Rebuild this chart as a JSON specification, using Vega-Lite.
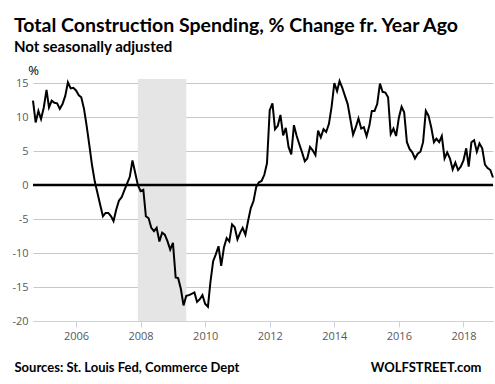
{
  "$schema": "https://vega.github.io/schema/vega-lite/v6.json",
  "width": 460,
  "height": 242,
  "autosize": {"type": "none"},
  "padding": {"left": 33, "top": 79, "right": 2, "bottom": 63},
  "background": "white",
  "config": {"view": {"stroke": null}},
  "title": {
    "text": "Total Construction Spending, % Change fr. Year Ago",
    "subtitle": "Not seasonally adjusted",
    "anchor": "start",
    "frame": "group",
    "dx": -19,
    "offset": 8,
    "font": "Lato",
    "fontSize": 19.5,
    "fontWeight": "bold",
    "color": "black",
    "subtitleFont": "Lato",
    "subtitleFontSize": 15,
    "subtitleFontWeight": "bold",
    "subtitleColor": "black",
    "subtitlePadding": 4
  },
  "datasets": {
    "recession": [{"start": "2007-12-01", "end": "2009-06-01"}],
    "zero": [{"v": 0}],
    "series": [
      {"date": "2004-09-01", "pct": 12.4}, {"date": "2004-10-01", "pct": 9.2}, {"date": "2004-11-01", "pct": 10.9}, {"date": "2004-12-01", "pct": 9.7},
      {"date": "2005-01-01", "pct": 11.4}, {"date": "2005-02-01", "pct": 14.0}, {"date": "2005-03-01", "pct": 11.4}, {"date": "2005-04-01", "pct": 12.4},
      {"date": "2005-05-01", "pct": 12.1}, {"date": "2005-06-01", "pct": 12.0}, {"date": "2005-07-01", "pct": 11.2}, {"date": "2005-08-01", "pct": 11.9},
      {"date": "2005-09-01", "pct": 13.1}, {"date": "2005-10-01", "pct": 15.1}, {"date": "2005-11-01", "pct": 14.2}, {"date": "2005-12-01", "pct": 14.3},
      {"date": "2006-01-01", "pct": 13.9}, {"date": "2006-02-01", "pct": 13.2}, {"date": "2006-03-01", "pct": 12.9}, {"date": "2006-04-01", "pct": 11.2},
      {"date": "2006-05-01", "pct": 8.7}, {"date": "2006-06-01", "pct": 5.8}, {"date": "2006-07-01", "pct": 2.9}, {"date": "2006-08-01", "pct": 0.5},
      {"date": "2006-09-01", "pct": -1.2}, {"date": "2006-10-01", "pct": -2.9}, {"date": "2006-11-01", "pct": -4.6}, {"date": "2006-12-01", "pct": -4.1},
      {"date": "2007-01-01", "pct": -4.1}, {"date": "2007-02-01", "pct": -4.6}, {"date": "2007-03-01", "pct": -5.3}, {"date": "2007-04-01", "pct": -3.6},
      {"date": "2007-05-01", "pct": -2.3}, {"date": "2007-06-01", "pct": -1.8}, {"date": "2007-07-01", "pct": -0.8}, {"date": "2007-08-01", "pct": 0.2},
      {"date": "2007-09-01", "pct": 1.2}, {"date": "2007-10-01", "pct": 3.6}, {"date": "2007-11-01", "pct": 1.8}, {"date": "2007-12-01", "pct": 0.0},
      {"date": "2008-01-01", "pct": -0.9}, {"date": "2008-02-01", "pct": -0.7}, {"date": "2008-03-01", "pct": -4.6}, {"date": "2008-04-01", "pct": -4.9},
      {"date": "2008-05-01", "pct": -6.3}, {"date": "2008-06-01", "pct": -6.8}, {"date": "2008-07-01", "pct": -6.3}, {"date": "2008-08-01", "pct": -8.3},
      {"date": "2008-09-01", "pct": -7.0}, {"date": "2008-10-01", "pct": -7.3}, {"date": "2008-11-01", "pct": -8.3}, {"date": "2008-12-01", "pct": -9.5},
      {"date": "2009-01-01", "pct": -8.5}, {"date": "2009-02-01", "pct": -13.6}, {"date": "2009-03-01", "pct": -13.7}, {"date": "2009-04-01", "pct": -15.3},
      {"date": "2009-05-01", "pct": -17.7}, {"date": "2009-06-01", "pct": -16.3}, {"date": "2009-07-01", "pct": -16.2}, {"date": "2009-08-01", "pct": -16.0},
      {"date": "2009-09-01", "pct": -15.8}, {"date": "2009-10-01", "pct": -17.2}, {"date": "2009-11-01", "pct": -16.8}, {"date": "2009-12-01", "pct": -16.2},
      {"date": "2010-01-01", "pct": -17.5}, {"date": "2010-02-01", "pct": -17.9}, {"date": "2010-03-01", "pct": -14.3}, {"date": "2010-04-01", "pct": -11.2},
      {"date": "2010-05-01", "pct": -10.2}, {"date": "2010-06-01", "pct": -9.0}, {"date": "2010-07-01", "pct": -11.9}, {"date": "2010-08-01", "pct": -9.2},
      {"date": "2010-09-01", "pct": -7.8}, {"date": "2010-10-01", "pct": -8.3}, {"date": "2010-11-01", "pct": -5.8}, {"date": "2010-12-01", "pct": -6.2},
      {"date": "2011-01-01", "pct": -8.0}, {"date": "2011-02-01", "pct": -7.0}, {"date": "2011-03-01", "pct": -6.3}, {"date": "2011-04-01", "pct": -7.3},
      {"date": "2011-05-01", "pct": -5.3}, {"date": "2011-06-01", "pct": -3.4}, {"date": "2011-07-01", "pct": -2.4}, {"date": "2011-08-01", "pct": -0.3},
      {"date": "2011-09-01", "pct": 0.4}, {"date": "2011-10-01", "pct": 0.6}, {"date": "2011-11-01", "pct": 1.5}, {"date": "2011-12-01", "pct": 3.2},
      {"date": "2012-01-01", "pct": 11.0}, {"date": "2012-02-01", "pct": 12.0}, {"date": "2012-03-01", "pct": 8.2}, {"date": "2012-04-01", "pct": 8.7},
      {"date": "2012-05-01", "pct": 10.3}, {"date": "2012-06-01", "pct": 7.3}, {"date": "2012-07-01", "pct": 8.4}, {"date": "2012-08-01", "pct": 5.6},
      {"date": "2012-09-01", "pct": 4.5}, {"date": "2012-10-01", "pct": 8.8}, {"date": "2012-11-01", "pct": 7.2}, {"date": "2012-12-01", "pct": 6.0},
      {"date": "2013-01-01", "pct": 4.8}, {"date": "2013-02-01", "pct": 3.5}, {"date": "2013-03-01", "pct": 3.9}, {"date": "2013-04-01", "pct": 5.6},
      {"date": "2013-05-01", "pct": 5.1}, {"date": "2013-06-01", "pct": 4.4}, {"date": "2013-07-01", "pct": 8.0}, {"date": "2013-08-01", "pct": 7.0},
      {"date": "2013-09-01", "pct": 8.2}, {"date": "2013-10-01", "pct": 7.8}, {"date": "2013-11-01", "pct": 9.0}, {"date": "2013-12-01", "pct": 11.5},
      {"date": "2014-01-01", "pct": 15.0}, {"date": "2014-02-01", "pct": 13.8}, {"date": "2014-03-01", "pct": 15.3}, {"date": "2014-04-01", "pct": 14.3},
      {"date": "2014-05-01", "pct": 13.1}, {"date": "2014-06-01", "pct": 11.9}, {"date": "2014-07-01", "pct": 9.7}, {"date": "2014-08-01", "pct": 7.4},
      {"date": "2014-09-01", "pct": 8.5}, {"date": "2014-10-01", "pct": 9.8}, {"date": "2014-11-01", "pct": 8.3}, {"date": "2014-12-01", "pct": 8.5},
      {"date": "2015-01-01", "pct": 7.2}, {"date": "2015-02-01", "pct": 8.7}, {"date": "2015-03-01", "pct": 10.9}, {"date": "2015-04-01", "pct": 10.9},
      {"date": "2015-05-01", "pct": 11.9}, {"date": "2015-06-01", "pct": 14.9}, {"date": "2015-07-01", "pct": 13.7}, {"date": "2015-08-01", "pct": 13.6},
      {"date": "2015-09-01", "pct": 12.9}, {"date": "2015-10-01", "pct": 7.5}, {"date": "2015-11-01", "pct": 8.3}, {"date": "2015-12-01", "pct": 7.2},
      {"date": "2016-01-01", "pct": 9.9}, {"date": "2016-02-01", "pct": 11.5}, {"date": "2016-03-01", "pct": 10.7}, {"date": "2016-04-01", "pct": 6.3},
      {"date": "2016-05-01", "pct": 5.3}, {"date": "2016-06-01", "pct": 4.8}, {"date": "2016-07-01", "pct": 3.9}, {"date": "2016-08-01", "pct": 4.6},
      {"date": "2016-09-01", "pct": 4.9}, {"date": "2016-10-01", "pct": 6.3}, {"date": "2016-11-01", "pct": 10.9}, {"date": "2016-12-01", "pct": 10.2},
      {"date": "2017-01-01", "pct": 8.5}, {"date": "2017-02-01", "pct": 6.3}, {"date": "2017-03-01", "pct": 6.8}, {"date": "2017-04-01", "pct": 6.3},
      {"date": "2017-05-01", "pct": 7.2}, {"date": "2017-06-01", "pct": 3.9}, {"date": "2017-07-01", "pct": 4.8}, {"date": "2017-08-01", "pct": 3.9},
      {"date": "2017-09-01", "pct": 2.3}, {"date": "2017-10-01", "pct": 3.3}, {"date": "2017-11-01", "pct": 2.2}, {"date": "2017-12-01", "pct": 2.7},
      {"date": "2018-01-01", "pct": 3.6}, {"date": "2018-02-01", "pct": 5.4}, {"date": "2018-03-01", "pct": 2.7}, {"date": "2018-04-01", "pct": 6.3},
      {"date": "2018-05-01", "pct": 6.6}, {"date": "2018-06-01", "pct": 4.9}, {"date": "2018-07-01", "pct": 6.1}, {"date": "2018-08-01", "pct": 5.4},
      {"date": "2018-09-01", "pct": 3.0}, {"date": "2018-10-01", "pct": 2.5}, {"date": "2018-11-01", "pct": 2.2}, {"date": "2018-12-01", "pct": 1.1}
    ]
  },
  "resolve": {"axis": {"x": "independent"}},
  "layer": [
    {
      "data": {"name": "recession"},
      "mark": {"type": "rect", "color": "#e5e5e5"},
      "encoding": {
        "x": {
          "field": "start", "type": "temporal",
          "scale": {"domain": ["2004-09-01", "2018-12-01"], "nice": false},
          "axis": {
            "orient": "bottom", "labels": false, "ticks": false, "domain": false, "grid": false,
            "title": "WOLFSTREET.com", "titleX": 448, "titleY": 46, "titleAlign": "right",
            "titleBaseline": "middle", "titleFont": "Lato", "titleFontSize": 13,
            "titleFontWeight": "bold", "titleColor": "black"
          }
        },
        "x2": {"field": "end"}
      }
    },
    {
      "data": {"name": "series"},
      "mark": {"type": "line", "color": "black", "strokeWidth": 2},
      "encoding": {
        "x": {
          "field": "date", "type": "temporal",
          "scale": {"domain": ["2004-09-01", "2018-12-01"], "nice": false},
          "axis": {
            "orient": "bottom",
            "tickCount": {"interval": "year", "step": 2},
            "format": "%Y", "grid": false,
            "domainColor": "#c8d2e2", "tickColor": "#c8d2e2", "tickSize": 6,
            "labelColor": "#595959", "labelFont": "Open Sans", "labelFontSize": 11, "labelPadding": 3,
            "title": "Sources: St. Louis Fed, Commerce Dept",
            "titleX": -19, "titleY": 46, "titleAlign": "left", "titleBaseline": "middle",
            "titleFont": "Lato", "titleFontSize": 13, "titleFontWeight": "bold", "titleColor": "black"
          }
        },
        "y": {
          "field": "pct", "type": "quantitative",
          "scale": {"domain": [-20, 15.588235], "nice": false, "zero": false},
          "axis": {
            "values": [-20, -15, -10, -5, 0, 5, 10, 15],
            "labelOverlap": false,
            "labelExpr": "replace(datum.label, '\u2212', '-')",
            "grid": true, "gridColor": "#c8c8c8", "gridWidth": 1,
            "domain": false, "ticks": false,
            "labelColor": "#595959", "labelFont": "Open Sans", "labelFontSize": 11, "labelPadding": 5,
            "title": "%", "titleAngle": 0, "titleX": 0, "titleY": -2, "titleAlign": "center",
            "titleBaseline": "bottom", "titleFont": "Open Sans", "titleFontSize": 13,
            "titleFontWeight": "normal", "titleColor": "black"
          }
        }
      }
    },
    {
      "data": {"name": "zero"},
      "mark": {"type": "rule", "color": "black", "strokeWidth": 2.5},
      "encoding": {
        "y": {
          "field": "v", "type": "quantitative",
          "axis": {
            "values": [-20, -15, -10, -5, 0, 5, 10, 15],
            "labelOverlap": false,
            "labelExpr": "replace(datum.label, '\u2212', '-')",
            "grid": true, "gridColor": "#c8c8c8", "gridWidth": 1,
            "domain": false, "ticks": false,
            "labelColor": "#595959", "labelFont": "Open Sans", "labelFontSize": 11, "labelPadding": 5,
            "title": "%", "titleAngle": 0, "titleX": 0, "titleY": -2, "titleAlign": "center",
            "titleBaseline": "bottom", "titleFont": "Open Sans", "titleFontSize": 13,
            "titleFontWeight": "normal", "titleColor": "black"
          }
        }
      }
    }
  ]
}
